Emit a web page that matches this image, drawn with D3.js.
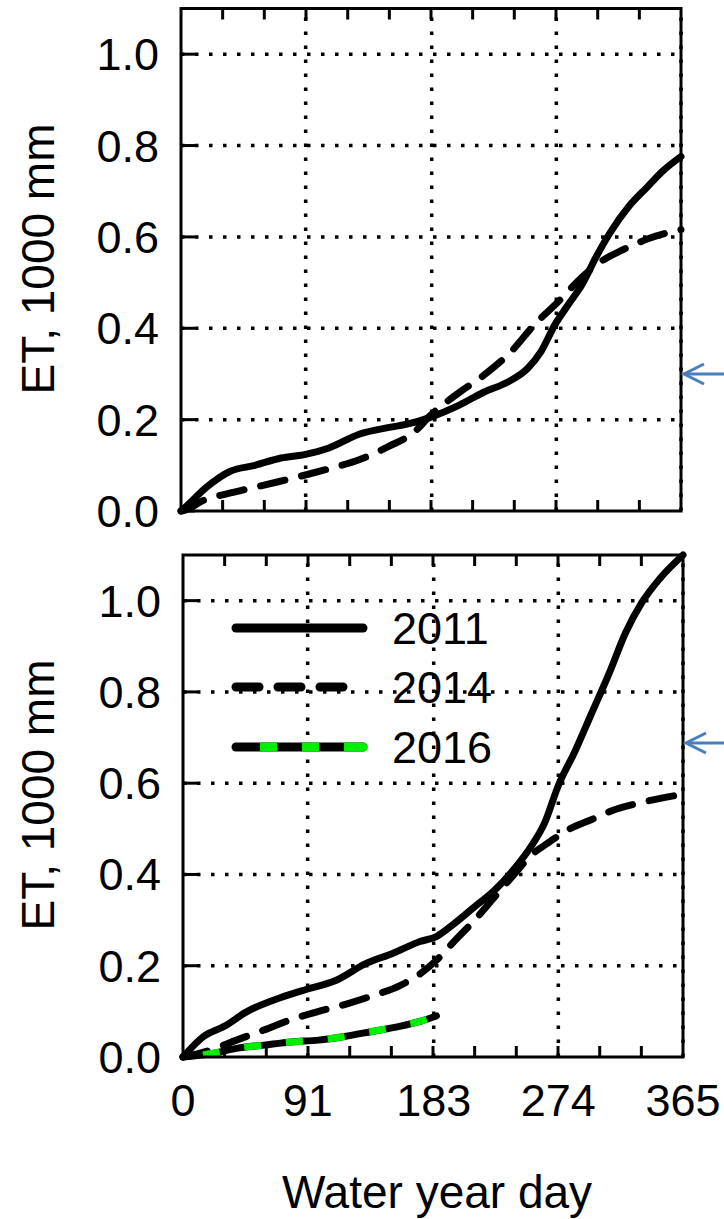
<!DOCTYPE html>
<html>
<head>
<meta charset="utf-8">
<script src="https://cdn.jsdelivr.net/npm/d3@7"></script>
<style>
  html, body { margin: 0; padding: 0; background: #fff; }
  svg { display: block; }
  text { font-family: Arial, "Liberation Sans", sans-serif; fill: #000; }
</style>
</head>
<body>
<svg id="chart" width="724" height="1219"></svg>
<script>
// ---------- data ----------
const xTickValues = [0, 91, 183, 274, 365];
const xTickLabels = ["0", "91", "183", "274", "365"];
const yTickValues = [0, 0.2, 0.4, 0.6, 0.8, 1.0];
const yTickLabels = ["0.0", "0.2", "0.4", "0.6", "0.8", "1.0"];
const minorTickDays = [30.4, 60.8, 91.25, 121.7, 152.1, 182.5, 212.9, 243.3, 273.75, 304.2, 334.6];
const legendYears = ["2011", "2014", "2016"];

// top panel
const topDays2011 = [0, 2, 19, 36, 54, 73, 91, 108, 130, 152, 165, 182, 202, 221, 239, 253, 263, 273, 283, 293, 303, 313, 327, 340, 352, 365];
const topET2011   = [0, 0.005, 0.053, 0.087, 0.100, 0.116, 0.124, 0.138, 0.168, 0.183, 0.190, 0.205, 0.230, 0.260, 0.283, 0.312, 0.350, 0.408, 0.453, 0.497, 0.556, 0.608, 0.667, 0.708, 0.745, 0.776];
const topDays2014 = [0, 2, 17, 34, 51, 71, 91, 110, 130, 152, 170, 182, 202, 221, 241, 258, 276, 290, 308, 322, 342, 365];
const topET2014   = [0, 0.001, 0.024, 0.038, 0.050, 0.064, 0.079, 0.094, 0.112, 0.142, 0.172, 0.209, 0.257, 0.297, 0.349, 0.408, 0.460, 0.504, 0.549, 0.571, 0.597, 0.616];

// bottom panel
const botDays2011 = [0, 15, 30, 47, 71, 91, 111, 133, 153, 173, 185, 197, 212, 227, 242, 254, 264, 274, 286, 298, 311, 323, 335, 348, 365];
const botET2011   = [0, 0.045, 0.067, 0.100, 0.130, 0.149, 0.167, 0.204, 0.227, 0.253, 0.264, 0.290, 0.327, 0.364, 0.413, 0.461, 0.513, 0.595, 0.669, 0.751, 0.840, 0.929, 0.996, 1.048, 1.100];
const botDays2014 = [0, 20, 39, 59, 79, 99, 118, 138, 158, 173, 185, 200, 212, 227, 242, 254, 266, 281, 298, 316, 335, 365];
const botET2014   = [0, 0.015, 0.037, 0.059, 0.082, 0.100, 0.115, 0.134, 0.156, 0.182, 0.212, 0.260, 0.297, 0.349, 0.401, 0.442, 0.468, 0.498, 0.520, 0.543, 0.558, 0.576];
const botDays2016 = [0, 20, 39, 59, 79, 99, 118, 138, 158, 173, 185];
const botET2016   = [0, 0.007, 0.019, 0.026, 0.033, 0.037, 0.045, 0.056, 0.067, 0.078, 0.090];

// ---------- drawing ----------
const svg = d3.select("#chart");
const FONT = 45;
const LW = 7;

function zip(a, b) { return a.map((d, i) => [d, b[i]]); }

function panel(opts) {
  const x = d3.scaleLinear().domain([0, 365]).range([opts.left, opts.left + 500]);
  const y = d3.scaleLinear().domain([0, 1.1]).range([opts.bottom, opts.top]);
  const g = svg.append("g");

  // grid (dotted)
  g.selectAll(".hg").data(yTickValues.filter(v => v > 0)).enter().append("line")
    .attr("x1", x(0)).attr("x2", x(365))
    .attr("y1", d => y(d)).attr("y2", d => y(d))
    .attr("stroke", "#000").attr("stroke-width", 3.5).attr("stroke-dasharray", "3.5,10.5");
  g.selectAll(".vg").data(xTickValues.filter(v => v > 0)).enter().append("line")
    .attr("x1", d => x(d)).attr("x2", d => x(d))
    .attr("y1", y(0)).attr("y2", y(1.1))
    .attr("stroke", "#000").attr("stroke-width", 3.5).attr("stroke-dasharray", "3.5,10.5");

  // ticks: inward minor x ticks top & bottom, y ticks left
  g.selectAll(".tb").data(minorTickDays).enter().append("line")
    .attr("x1", d => x(d)).attr("x2", d => x(d))
    .attr("y1", y(0)).attr("y2", y(0) - 11)
    .attr("stroke", "#000").attr("stroke-width", 3);
  g.selectAll(".tt").data(minorTickDays).enter().append("line")
    .attr("x1", d => x(d)).attr("x2", d => x(d))
    .attr("y1", y(1.1)).attr("y2", y(1.1) + 11)
    .attr("stroke", "#000").attr("stroke-width", 3);
  g.selectAll(".ty").data(yTickValues).enter().append("line")
    .attr("x1", x(0)).attr("x2", x(0) + 14)
    .attr("y1", d => y(d)).attr("y2", d => y(d))
    .attr("stroke", "#000").attr("stroke-width", 3);

  // y tick labels
  g.selectAll(".yl").data(yTickValues).enter().append("text")
    .attr("x", x(0) - 22).attr("y", d => y(d) + 16)
    .attr("text-anchor", "end").attr("font-size", FONT)
    .text((d, i) => yTickLabels[i]);

  // y axis title
  g.append("text")
    .attr("transform", `translate(54,${opts.titleY}) rotate(-90)`)
    .attr("text-anchor", "middle").attr("font-size", 46)
    .text("ET, 1000 mm");

  // series
  const line = d3.line().x(d => x(d[0])).y(d => y(d[1])).curve(d3.curveMonotoneX);
  opts.series.forEach(s => {
    if (s.type === "solid") {
      g.append("path").attr("d", line(s.data)).attr("fill", "none")
        .attr("stroke", "#000").attr("stroke-width", LW).attr("stroke-linecap", "round").attr("stroke-linejoin", "round");
    } else if (s.type === "dash") {
      g.append("path").attr("d", line(s.data)).attr("fill", "none")
        .attr("stroke", "#000").attr("stroke-width", LW).attr("stroke-linecap", "round")
        .attr("stroke-dasharray", "25,17");
    } else if (s.type === "green") {
      g.append("path").attr("d", line(s.data)).attr("fill", "none")
        .attr("stroke", "#000").attr("stroke-width", LW).attr("stroke-linecap", "round");
      g.append("path").attr("d", line(s.data)).attr("fill", "none")
        .attr("stroke", "#00ee00").attr("stroke-width", LW)
        .attr("stroke-dasharray", "17,25").attr("stroke-dashoffset", -20);
    }
  });

  // frame
  g.append("rect").attr("x", x(0)).attr("y", y(1.1))
    .attr("width", x(365) - x(0)).attr("height", y(0) - y(1.1))
    .attr("fill", "none").attr("stroke", "#000").attr("stroke-width", 3);

  // blue arrow
  const ay = opts.arrowY, ax = x(365) + 3;
  g.append("line").attr("x1", ax + 1).attr("x2", 724).attr("y1", ay).attr("y2", ay)
    .attr("stroke", "#4A7EBB").attr("stroke-width", 3);
  g.append("path").attr("d", `M${ax + 20},${ay - 10} L${ax},${ay} L${ax + 20},${ay + 10}`)
    .attr("fill", "none").attr("stroke", "#4A7EBB").attr("stroke-width", 3);

  return { x, y, g };
}

panel({
  left: 181, top: 8.5, bottom: 511, titleY: 259, arrowY: 374,
  series: [
    { type: "solid", data: zip(topDays2011, topET2011) },
    { type: "dash", data: zip(topDays2014, topET2014) }
  ]
});

const bp = panel({
  left: 183, top: 555, bottom: 1057, titleY: 795, arrowY: 743,
  series: [
    { type: "solid", data: zip(botDays2011, botET2011) },
    { type: "dash", data: zip(botDays2014, botET2014) },
    { type: "green", data: zip(botDays2016, botET2016) }
  ]
});

// x tick labels (bottom panel)
svg.selectAll(".xl").data(xTickValues).enter().append("text")
  .attr("x", d => bp.x(d)).attr("y", 1116)
  .attr("text-anchor", "middle").attr("font-size", FONT)
  .text((d, i) => xTickLabels[i]);

svg.append("text").attr("x", 437).attr("y", 1208)
  .attr("text-anchor", "middle").attr("font-size", 46)
  .text("Water year day");

// legend
const legY = [628, 687, 747];
const legTypes = ["solid", "dash", "green"];
legendYears.forEach((yr, i) => {
  const ly = legY[i];
  if (legTypes[i] === "solid") {
    svg.append("line").attr("x1", 236).attr("x2", 363).attr("y1", ly).attr("y2", ly)
      .attr("stroke", "#000").attr("stroke-width", 9).attr("stroke-linecap", "round");
  } else if (legTypes[i] === "dash") {
    svg.append("line").attr("x1", 236).attr("x2", 344).attr("y1", ly).attr("y2", ly)
      .attr("stroke", "#000").attr("stroke-width", 9).attr("stroke-linecap", "round")
      .attr("stroke-dasharray", "23,19");
  } else {
    svg.append("line").attr("x1", 236).attr("x2", 363).attr("y1", ly).attr("y2", ly)
      .attr("stroke", "#000").attr("stroke-width", 9).attr("stroke-linecap", "round");
    svg.append("line").attr("x1", 260).attr("x2", 363).attr("y1", ly).attr("y2", ly)
      .attr("stroke", "#00ee00").attr("stroke-width", 9)
      .attr("stroke-dasharray", "17,25");
    svg.append("circle").attr("cx", 363).attr("cy", ly).attr("r", 4.5).attr("fill", "#00ee00");
  }
  svg.append("text").attr("x", 392).attr("y", ly + 16).attr("font-size", FONT).text(yr);
});
</script>
</body>
</html>
